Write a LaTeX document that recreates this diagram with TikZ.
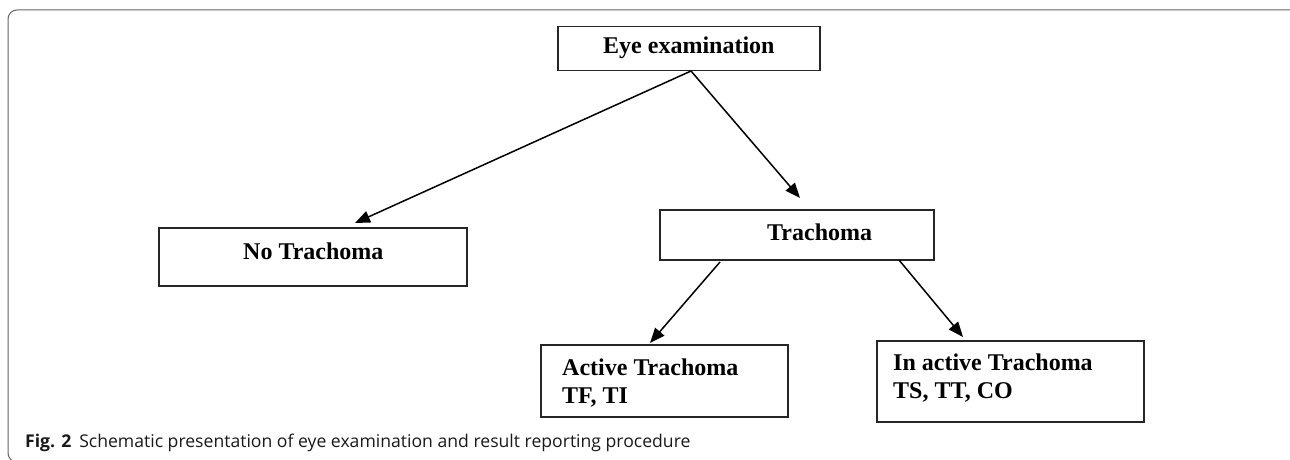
\documentclass[tikz,border=0pt]{standalone}
\usepackage{fontspec}
\setmainfont{Liberation Serif}
\newfontfamily\capfont{Open Sans}
\usetikzlibrary{arrows.meta}
\begin{document}
\begin{tikzpicture}[x=1pt,y=-1pt,
  box/.style={draw=black!85, line width=1.5pt, inner sep=0pt, anchor=north west},
  lbl/.style={font=\fontsize{24}{28}\selectfont\bfseries, inner sep=0pt, anchor=base west, align=left},
  arr/.style={line width=1.5pt, -{Triangle[length=15pt,width=12pt]}}]
\useasboundingbox (0,0) rectangle (1290,460);
\begin{scope}
\clip (0,0) rectangle (1290,460);
\draw[black!60, line width=1pt, rounded corners=9pt] (8,10) rectangle (1300,462);
\end{scope}
% boxes
\node[box, minimum width=262pt, minimum height=44pt] (eye) at (557,26) {};
\node[box, minimum width=308pt, minimum height=58pt] (no) at (158,227) {};
\node[box, minimum width=274pt, minimum height=50pt] (tr) at (659,209) {};
\node[box, minimum width=247pt, minimum height=72pt] (act) at (540,344) {};
\node[box, minimum width=267pt, minimum height=81pt] (ina) at (876,340) {};
% labels
\node[lbl] (eyet) at (603,53) {Eye examination};
\node[lbl] (not) at (243,259) {No Trachoma};
\node[lbl] (trt) at (767,240) {Trachoma};
\node[lbl] (actt) at (562,375) {Active Trachoma};
\node[lbl] (actt2) at (562,403) {TF, TI};
\node[lbl] (inat) at (893,370) {In active Trachoma};
\node[lbl] (inat2) at (893,398) {TS, TT, CO};
% connector points
\coordinate (s1) at (691,71);
\coordinate (e1) at (355,223);
\coordinate (e2) at (800,198);
\coordinate (s3) at (720,262);
\coordinate (e3) at (650,343);
\coordinate (s4) at (899,260);
\coordinate (e4) at (963,337);
\draw[arr] (s1) -- (e1);
\draw[arr] (s1) -- (e2);
\draw[arr] (s3) -- (e3);
\draw[arr] (s4) -- (e4);
% caption
\node[font=\capfont\fontsize{17.6}{21}\selectfont, inner sep=0pt, anchor=base west, text=black!90] (cap) at (25,447) {\textbf{Fig. 2}\hspace{0.45em}Schematic presentation of eye examination and result reporting procedure};
\end{tikzpicture}
\end{document}
